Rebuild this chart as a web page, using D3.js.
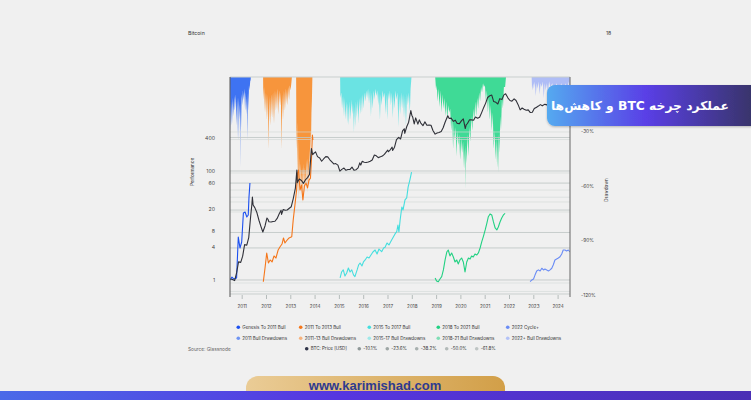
<!DOCTYPE html>
<html><head><meta charset="utf-8">
<script src="https://cdn.jsdelivr.net/npm/d3@7"></script>
<style>
html,body{margin:0;padding:0;background:#f0f0f0;}
svg{display:block;}
</style></head><body>
<svg id="c" width="751" height="400"></svg>
<script>
// ---------------- DATA ----------------
const yearTicks = [2011,2012,2013,2014,2015,2016,2017,2018,2019,2020,2021,2022,2023,2024];
const perfTicks = [1,4,8,20,60,100,400];
const ddTicks = [-30,-60,-90,-120];
const gridMain = [412,100,60,19.2,7.44,3.87,1];
const gridFaint = [520,378,92,44.8,33,27,17.7,0.88,0.615];

// BTC price (USD) [decimal year, price]
const btcPrice = [
[2010.54,0.07],[2010.62,0.067],[2010.71,0.062],[2010.79,0.11],[2010.87,0.25],[2010.96,0.24],
[2011.04,0.38],[2011.12,0.9],[2011.21,0.86],[2011.29,1.5],[2011.37,7.5],[2011.42,18],[2011.44,31],[2011.47,17],[2011.54,14],[2011.62,10],[2011.71,5.5],[2011.79,3.5],[2011.87,2.3],[2011.96,3.6],
[2012.04,6.5],[2012.08,5.9],[2012.12,4.9],[2012.21,4.8],[2012.29,5.0],[2012.37,5.1],[2012.46,6.3],[2012.54,8.7],[2012.62,11.5],[2012.64,8.5],[2012.71,12.2],[2012.79,11.5],[2012.87,11.8],[2012.96,13.4],
[2013.04,15],[2013.12,27],[2013.21,60],[2013.27,230],[2013.29,90],[2013.37,118],[2013.46,105],[2013.54,85],[2013.62,110],[2013.71,130],[2013.79,165],[2013.87,1130],[2013.92,720],[2013.96,780],
[2014.04,880],[2014.12,620],[2014.21,560],[2014.29,440],[2014.37,520],[2014.46,620],[2014.54,610],[2014.62,500],[2014.71,420],[2014.79,360],[2014.87,370],[2014.96,330],
[2015.04,210],[2015.12,240],[2015.21,265],[2015.29,225],[2015.37,238],[2015.46,240],[2015.54,285],[2015.62,225],[2015.71,235],[2015.79,270],[2015.86,390],[2015.90,330],[2015.96,440],
[2016.04,410],[2016.12,400],[2016.21,415],[2016.29,440],[2016.37,480],[2016.46,700],[2016.54,660],[2016.62,575],[2016.71,610],[2016.79,650],[2016.87,730],[2016.96,900],
[2017.01,1000],[2017.04,890],[2017.12,1050],[2017.19,1250],[2017.21,980],[2017.29,1250],[2017.37,2200],[2017.46,2600],[2017.54,2300],[2017.62,4200],[2017.69,4900],[2017.71,3500],[2017.79,5700],[2017.87,8000],[2017.96,19000],
[2018.00,13500],[2018.04,11500],[2018.10,7000],[2018.16,11000],[2018.25,6900],[2018.31,9500],[2018.37,7500],[2018.46,6200],[2018.54,8200],[2018.62,6400],[2018.71,6500],[2018.79,6400],[2018.87,4300],[2018.96,3300],
[2019.04,3600],[2019.12,3700],[2019.21,4000],[2019.29,5300],[2019.37,8000],[2019.48,12900],[2019.54,10500],[2019.62,10800],[2019.71,8500],[2019.79,9300],[2019.87,7300],[2019.96,7200],
[2020.04,8800],[2020.12,10200],[2020.20,5000],[2020.24,6700],[2020.29,7200],[2020.37,9500],[2020.46,9500],[2020.54,9300],[2020.62,11700],[2020.71,10700],[2020.79,11500],[2020.87,16000],[2020.96,24000],
[2021.04,33000],[2021.12,50000],[2021.21,57000],[2021.29,60000],[2021.37,37000],[2021.46,35000],[2021.54,31000],[2021.62,46000],[2021.71,43000],[2021.79,61000],[2021.86,66000],[2021.96,48000],
[2022.04,40000],[2022.12,38000],[2022.21,45000],[2022.29,40000],[2022.37,30000],[2022.46,20000],[2022.54,23000],[2022.62,21000],[2022.71,19500],[2022.79,20000],[2022.87,16500],[2022.96,16800],
[2023.04,22000],[2023.12,24000],[2023.21,26500],[2023.29,29500],[2023.37,27000],[2023.46,30000],[2023.54,29500],[2023.62,26000],[2023.71,26500],[2023.79,34000],[2023.87,37000],[2023.96,43000],
[2024.04,42000],[2024.12,52000],[2024.21,70000],[2024.29,64000],[2024.37,67000],[2024.46,64000],[2024.51,60000]
];

// Cycle performance [decimal year, multiple]
const genesisBull = [[2010.52,1.0],[2010.60,1.13],[2010.68,1.04],[2010.79,1.09],[2010.86,6.15],[2010.93,3.86],[2011.00,4.98],[2011.07,17.0],[2011.14,17.7],[2011.21,14.3],[2011.27,15.6],[2011.30,33],[2011.34,60]];
const bull1113 = [[2011.89,0.93],[2011.96,1.66],[2012.03,3.13],[2012.10,2.05],[2012.17,2.33],[2012.25,2.14],[2012.33,2.76],[2012.41,2.53],[2012.50,3.55],[2012.58,4.08],[2012.66,4.57],[2012.72,5.9],[2012.78,4.77],[2012.87,5.41],[2012.95,5.9],[2013.06,6.2],[2013.12,12.6],[2013.19,23.7],[2013.26,44.8],[2013.30,91.8],[2013.34,104],[2013.40,44.8],[2013.46,55],[2013.52,29.4],[2013.58,53],[2013.65,60],[2013.71,49],[2013.77,68],[2013.83,74],[2013.87,158],[2013.91,457],[2013.93,370]];
const bull1517 = [[2015.05,1.09],[2015.11,1.40],[2015.18,1.53],[2015.25,1.18],[2015.32,1.34],[2015.39,1.66],[2015.46,1.40],[2015.53,1.53],[2015.60,1.24],[2015.66,1.15],[2015.75,1.53],[2015.81,1.88],[2015.87,2.05],[2015.95,1.81],[2016.01,2.14],[2016.08,2.33],[2016.16,2.64],[2016.24,2.53],[2016.32,2.87],[2016.40,3.26],[2016.49,3.55],[2016.57,3.0],[2016.65,3.7],[2016.76,3.3],[2016.84,3.86],[2016.90,4.0],[2016.98,4.77],[2017.06,4.4],[2017.17,5.4],[2017.24,6.15],[2017.31,7.0],[2017.38,7.7],[2017.43,10.2],[2017.47,7.6],[2017.52,12.6],[2017.59,21.8],[2017.64,19.3],[2017.72,29.4],[2017.79,32],[2017.85,51],[2017.92,68],[2017.99,95]];
const bull1821 = [[2018.96,1.09],[2019.02,0.96],[2019.09,0.93],[2019.16,1.04],[2019.23,1.15],[2019.30,1.53],[2019.37,2.33],[2019.44,3.26],[2019.50,3.55],[2019.57,2.76],[2019.64,3.13],[2019.71,2.64],[2019.78,2.14],[2019.85,2.33],[2019.91,1.97],[2019.98,2.33],[2020.05,2.53],[2020.12,2.14],[2020.19,1.40],[2020.26,2.14],[2020.33,2.53],[2020.40,2.43],[2020.46,2.76],[2020.53,2.64],[2020.60,3.0],[2020.67,2.87],[2020.74,3.13],[2020.81,3.86],[2020.88,5.04],[2020.95,6.4],[2021.02,8.3],[2021.09,11.1],[2021.15,14.5],[2021.22,16.3],[2021.29,15.6],[2021.36,11.6],[2021.43,9.0],[2021.50,8.3],[2021.56,9.4],[2021.63,11.6],[2021.70,13.7],[2021.77,15.6],[2021.84,16.7]];
const cycle2022 = [[2022.87,0.93],[2022.94,1.0],[2023.01,1.04],[2023.07,1.23],[2023.14,1.46],[2023.21,1.53],[2023.28,1.46],[2023.35,1.64],[2023.42,1.53],[2023.48,1.59],[2023.55,1.53],[2023.62,1.46],[2023.69,1.53],[2023.76,1.64],[2023.82,1.88],[2023.89,2.33],[2023.96,2.43],[2024.03,2.53],[2024.10,2.67],[2024.17,3.0],[2024.23,3.55],[2024.30,3.55],[2024.37,3.4],[2024.44,3.55],[2024.51,3.26]];

// Drawdowns [decimal year, percent]
const dd2011 = [[2010.52,0],[2010.53,-30],[2010.56,-14],[2010.60,-27],[2010.63,-12],[2010.66,-22],[2010.69,-11],[2010.72,-19],[2010.76,-10],[2010.79,-27],[2010.82,-12],[2010.85,-35],[2010.88,-12],[2010.91,-24],[2010.925,-14],[2010.935,-50],[2010.95,-15],[2010.97,-30],[2011.00,-10],[2011.03,-16],[2011.05,-8],[2011.08,-13],[2011.11,-7],[2011.14,-19],[2011.17,-9],[2011.20,-21],[2011.22,-10],[2011.24,-35],[2011.26,-9],[2011.28,-19],[2011.30,-5],[2011.32,-8],[2011.35,-3],[2011.37,-2],[2011.38,0]];
const dd1113 = [[2011.88,0],[2011.89,-13],[2011.92,-6],[2011.96,-20],[2012.00,-9],[2012.04,-24],[2012.07,-10],[2012.10,-40],[2012.13,-11],[2012.17,-27],[2012.21,-10],[2012.25,-23],[2012.29,-9],[2012.33,-26],[2012.37,-8],[2012.41,-19],[2012.46,-7],[2012.50,-21],[2012.54,-8],[2012.58,-16],[2012.61,-9],[2012.64,-40],[2012.67,-10],[2012.70,-24],[2012.74,-8],[2012.78,-19],[2012.82,-7],[2012.87,-16],[2012.91,-6],[2012.95,-13],[2012.98,-5],[2013.01,-8],[2013.05,-3],[2013.07,0],[2013.24,0],[2013.25,-30],[2013.26,-40],[2013.28,-25],[2013.30,-57],[2013.32,-35],[2013.34,-68],[2013.37,-45],[2013.40,-65],[2013.43,-48],[2013.46,-62],[2013.49,-50],[2013.51,-70],[2013.54,-48],[2013.57,-64],[2013.60,-50],[2013.63,-61],[2013.66,-46],[2013.69,-64],[2013.72,-45],[2013.75,-60],[2013.78,-40],[2013.81,-54],[2013.83,-30],[2013.85,-40],[2013.87,-20],[2013.89,-13],[2013.91,0]];
const dd1517 = [[2015.05,0],[2015.06,-12],[2015.10,-9],[2015.13,-18],[2015.17,-11],[2015.21,-22],[2015.24,-12],[2015.27,-24],[2015.31,-14],[2015.34,-26],[2015.37,-15],[2015.41,-27],[2015.44,-14],[2015.48,-24],[2015.51,-13],[2015.55,-21],[2015.58,-15],[2015.62,-31],[2015.64,-17],[2015.67,-28],[2015.70,-14],[2015.74,-23],[2015.77,-13],[2015.81,-26],[2015.84,-12],[2015.88,-21],[2015.91,-11],[2015.95,-20],[2015.98,-10],[2016.02,-18],[2016.05,-9],[2016.09,-14],[2016.12,-8],[2016.16,-12],[2016.20,-7],[2016.24,-15],[2016.28,-8],[2016.32,-22],[2016.35,-9],[2016.39,-18],[2016.43,-8],[2016.47,-13],[2016.50,-7],[2016.54,-11],[2016.58,-8],[2016.62,-16],[2016.65,-9],[2016.69,-24],[2016.72,-10],[2016.76,-16],[2016.80,-8],[2016.84,-12],[2016.88,-9],[2016.92,-21],[2016.95,-10],[2016.99,-24],[2017.02,-9],[2017.06,-13],[2017.10,-8],[2017.14,-16],[2017.18,-9],[2017.22,-23],[2017.25,-10],[2017.29,-18],[2017.33,-8],[2017.37,-13],[2017.41,-9],[2017.45,-28],[2017.48,-11],[2017.52,-21],[2017.56,-9],[2017.60,-18],[2017.64,-10],[2017.68,-23],[2017.72,-11],[2017.76,-27],[2017.80,-10],[2017.84,-16],[2017.88,-9],[2017.92,-20],[2017.95,-7],[2017.99,0]];
const dd1821 = [[2018.96,0],[2019.00,-8],[2019.03,-5],[2019.06,-14],[2019.10,-7],[2019.14,-17],[2019.18,-8],[2019.22,-20],[2019.26,-10],[2019.30,-18],[2019.34,-12],[2019.38,-22],[2019.42,-14],[2019.46,-24],[2019.50,-16],[2019.54,-20],[2019.58,-18],[2019.62,-30],[2019.66,-22],[2019.70,-40],[2019.73,-26],[2019.76,-35],[2019.80,-28],[2019.84,-44],[2019.87,-30],[2019.91,-38],[2019.95,-32],[2019.99,-46],[2020.03,-34],[2020.07,-42],[2020.11,-36],[2020.15,-51],[2020.185,-40],[2020.20,-62],[2020.22,-38],[2020.25,-48],[2020.29,-32],[2020.33,-44],[2020.37,-28],[2020.41,-36],[2020.45,-22],[2020.49,-30],[2020.53,-18],[2020.57,-25],[2020.61,-14],[2020.65,-22],[2020.69,-12],[2020.73,-18],[2020.77,-9],[2020.81,-14],[2020.85,-6],[2020.89,-9],[2020.93,-4],[2020.97,-6],[2021.01,-5],[2021.05,-14],[2021.09,-8],[2021.13,-20],[2021.17,-12],[2021.21,-24],[2021.25,-16],[2021.29,-30],[2021.33,-20],[2021.37,-40],[2021.41,-30],[2021.45,-46],[2021.48,-34],[2021.51,-50],[2021.53,-36],[2021.55,-53],[2021.58,-32],[2021.61,-42],[2021.64,-22],[2021.67,-30],[2021.71,-12],[2021.75,-18],[2021.79,-6],[2021.84,-6],[2021.88,0]];
const dd2022 = [[2022.93,0],[2022.95,-8],[2023.00,-4],[2023.02,-7],[2023.06,-3],[2023.10,-11],[2023.14,-4],[2023.18,-7],[2023.22,-3],[2023.26,-10],[2023.30,-4],[2023.35,-6],[2023.39,-3],[2023.43,-12],[2023.47,-4],[2023.51,-8],[2023.56,-4],[2023.60,-9],[2023.65,-3],[2023.70,-6],[2023.78,-4],[2023.85,-10],[2023.95,-4],[2024.05,-8],[2024.15,-4],[2024.25,-9],[2024.33,-4],[2024.40,-7],[2024.46,-3],[2024.51,-9]];

const legendRow1 = ["Genesis To 2011 Bull","2011 To 2013 Bull","2015 To 2017 Bull","2018 To 2021 Bull","2022 Cycle+"];
const legendRow2 = ["2011 Bull Drawdowns","2011-13 Bull Drawdowns","2015-17 Bull Drawdowns","2018-21 Bull Drawdowns","2022+ Bull Drawdowns"];
const fibLevels = ["-10.1%","-23.6%","-38.2%","-50.0%","-61.8%"];

// ---------------- STYLE ----------------
const lineCols = ["#1c50f0","#f5761a","#45dede","#22d183","#6a8cf5"];
const areaCols = ["#2f68f2","#f78d2c","#5ee2e2","#30d88e","#a9b9f6"];
const legDDCols = ["#6f94f3","#f7b27c","#a0e9e9","#80deb6","#b3c2f7"];
const fibCols = ["#8f9898","#9ea6a5","#a8b0af","#b3bab9","#bfc5c4"];

const svg = d3.select("#c");
const L=230,R=570,T=77,B=295;
const x = d3.scaleLinear().domain([2010.519,2024.51]).range([L,R]);
const yP = d3.scaleLog().domain([0.530,5309]).range([B,T]);
const yD = d3.scaleLinear().domain([0,-120]).range([76,295]);
const yB = d3.scaleLog().domain([0.0213,229700]).range([B,T]);

svg.append("rect").attr("width",751).attr("height",400).attr("fill","#f0f0f0");

const font = "Inter, 'Noto Sans', sans-serif";
svg.append("text").attr("x",188).attr("y",35).text("Bitcoin").attr("font-family",font).attr("font-size",5.2).attr("fill","#333");
svg.append("text").attr("x",606).attr("y",35).text("18").attr("font-family",font).attr("font-size",5.2).attr("fill","#333");

const defs = svg.append("defs");
defs.append("clipPath").attr("id","pc").append("rect").attr("x",L).attr("y",T).attr("width",R-L).attr("height",B-T);
const g = svg.append("g").attr("clip-path","url(#pc)");

// drawdown areas
const area = d3.area().x(d=>x(d[0])).y0(yD(0)).y1(d=>yD(d[1]));
[dd2011,dd1113,dd1517,dd1821,dd2022].forEach((s,i)=>{
  g.append("path").datum(s).attr("d",area).attr("fill",areaCols[i]).attr("fill-opacity",0.92);
});

// gridlines
gridFaint.forEach(v=>g.append("line").attr("x1",L).attr("x2",R).attr("y1",yP(v)).attr("y2",yP(v)).attr("stroke","#d3d9d8").attr("stroke-width",0.8).attr("stroke-opacity",0.8));
gridMain.forEach(v=>g.append("line").attr("x1",L).attr("x2",R).attr("y1",yP(v)).attr("y2",yP(v)).attr("stroke","#bfc7c6").attr("stroke-width",1).attr("stroke-opacity",0.85));

// performance lines
const pline = d3.line().x(d=>x(d[0])).y(d=>yP(d[1]));
[genesisBull,bull1113,bull1517,bull1821,cycle2022].forEach((s,i)=>{
  g.append("path").datum(s).attr("d",pline).attr("fill","none").attr("stroke",lineCols[i]).attr("stroke-width",1.1).attr("stroke-linejoin","round");
});
// BTC price
const bline = d3.line().x(d=>x(d[0])).y(d=>yB(d[1]));
g.append("path").datum(btcPrice).attr("d",bline).attr("fill","none").attr("stroke","#2f3038").attr("stroke-width",1.1).attr("stroke-linejoin","round");

// frame
svg.append("line").attr("x1",L).attr("x2",R).attr("y1",T).attr("y2",T).attr("stroke","#c9cfce").attr("stroke-width",1);
svg.append("line").attr("x1",L).attr("x2",R).attr("y1",B-1).attr("y2",B-1).attr("stroke","#c9cfce").attr("stroke-width",1);
svg.append("line").attr("x1",L).attr("x2",L).attr("y1",T).attr("y2",B+2).attr("stroke","#555").attr("stroke-width",1);
svg.append("line").attr("x1",R).attr("x2",R).attr("y1",T).attr("y2",B+2).attr("stroke","#666").attr("stroke-width",1);

// axes
const xa = svg.append("g").attr("transform",`translate(0,${B})`).call(d3.axisBottom(x).tickValues(yearTicks).tickFormat(d=>d).tickSize(4).tickPadding(6));
xa.select(".domain").remove();
xa.selectAll("line").attr("stroke","#b5bcbb");
xa.selectAll("text").attr("font-family",font).attr("font-size",4.6).attr("fill","#444");

const la = svg.append("g").attr("transform",`translate(${L},0)`).call(d3.axisLeft(yP).tickValues(perfTicks).tickFormat(d=>d).tickSize(0).tickPadding(15));
la.select(".domain").remove();
la.selectAll("text").attr("font-family",font).attr("font-size",5.2).attr("fill","#444");

const ra = svg.append("g").attr("transform",`translate(${R},0)`).call(d3.axisRight(yD).tickValues(ddTicks).tickFormat(d=>d+"%").tickSize(0).tickPadding(11));
ra.select(".domain").remove();
ra.selectAll("text").attr("font-family",font).attr("font-size",4.8).attr("fill","#444");

svg.append("text").attr("transform","translate(194,172) rotate(-90)").attr("text-anchor","middle").text("Performance").attr("font-family",font).attr("font-size",4.6).attr("fill","#333");
svg.append("text").attr("transform","translate(608,190) rotate(-90)").attr("text-anchor","middle").text("Drawdown").attr("font-family",font).attr("font-size",4.6).attr("fill","#333");

// legend
const legX = [238.3,300.7,369.3,438.3,507.7];
function legItem(cx,cy,col,label){
  svg.append("circle").attr("cx",cx).attr("cy",cy).attr("r",1.8).attr("fill",col);
  svg.append("text").attr("x",cx+4).attr("y",cy+1.6).text(label).attr("font-family",font).attr("font-size",4.5).attr("fill","#333");
}
legendRow1.forEach((t,i)=>legItem(legX[i],327.3,lineCols[i],t));
legendRow2.forEach((t,i)=>legItem(legX[i],338.3,legDDCols[i],t));
svg.append("text").attr("x",188).attr("y",350.5).text("Source: Glassnode").attr("font-family",font).attr("font-size",4.8).attr("fill","#666");
legItem(306.7,348.7,"#2f3348","BTC: Price [USD]");
const fibX=[359.3,387.3,416.7,446.7,476.7];
fibLevels.forEach((t,i)=>legItem(fibX[i],348.7,fibCols[i],t));

// badge
const bg = defs.append("linearGradient").attr("id","bg").attr("x1","0").attr("x2","1").attr("y1","0").attr("y2","0");
bg.append("stop").attr("offset","0").attr("stop-color","#54aaf0");
bg.append("stop").attr("offset","0.45").attr("stop-color","#5a3fe6");
bg.append("stop").attr("offset","1").attr("stop-color","#343359");
const sh = defs.append("filter").attr("id","sh").attr("x","-10%").attr("y","-30%").attr("width","130%").attr("height","160%");
sh.append("feDropShadow").attr("dx",0).attr("dy",1).attr("stdDeviation",1.2).attr("flood-color","#000").attr("flood-opacity",0.25);
svg.append("rect").attr("x",547).attr("y",85).attr("width",220).attr("height",41).attr("rx",8).attr("fill","url(#bg)").attr("filter","url(#sh)");
svg.append("text").attr("x",640).attr("y",110).attr("text-anchor","middle").attr("direction","rtl")
  .text("عملکرد چرخه BTC و کاهش‌ها").attr("font-family","'DejaVu Sans', sans-serif").attr("font-weight","bold").attr("font-size",12.3).attr("fill","#fff");

// footer pill
const pg = defs.append("linearGradient").attr("id","pg").attr("x1","0").attr("x2","1").attr("y1","0").attr("y2","0");
pg.append("stop").attr("offset","0").attr("stop-color","#eacc96");
pg.append("stop").attr("offset","1").attr("stop-color","#d29f48");
svg.append("rect").attr("x",246).attr("y",376).attr("width",259).attr("height",30).attr("rx",12).attr("fill","url(#pg)");
svg.append("text").attr("x",375).attr("y",389.5).attr("text-anchor","middle").text("www.karimishad.com")
  .attr("font-family","'Liberation Sans', Arial, sans-serif").attr("font-weight","bold").attr("font-size",13).attr("fill","#2e3a8f");
const fg = defs.append("linearGradient").attr("id","fg").attr("x1","0").attr("x2","1").attr("y1","0").attr("y2","0");
fg.append("stop").attr("offset","0").attr("stop-color","#4a6ae8");
fg.append("stop").attr("offset","0.45").attr("stop-color","#5636e0");
fg.append("stop").attr("offset","1").attr("stop-color","#4a2fb5");
svg.append("rect").attr("x",0).attr("y",391).attr("width",751).attr("height",9).attr("fill","url(#fg)");
</script>
</body></html>
